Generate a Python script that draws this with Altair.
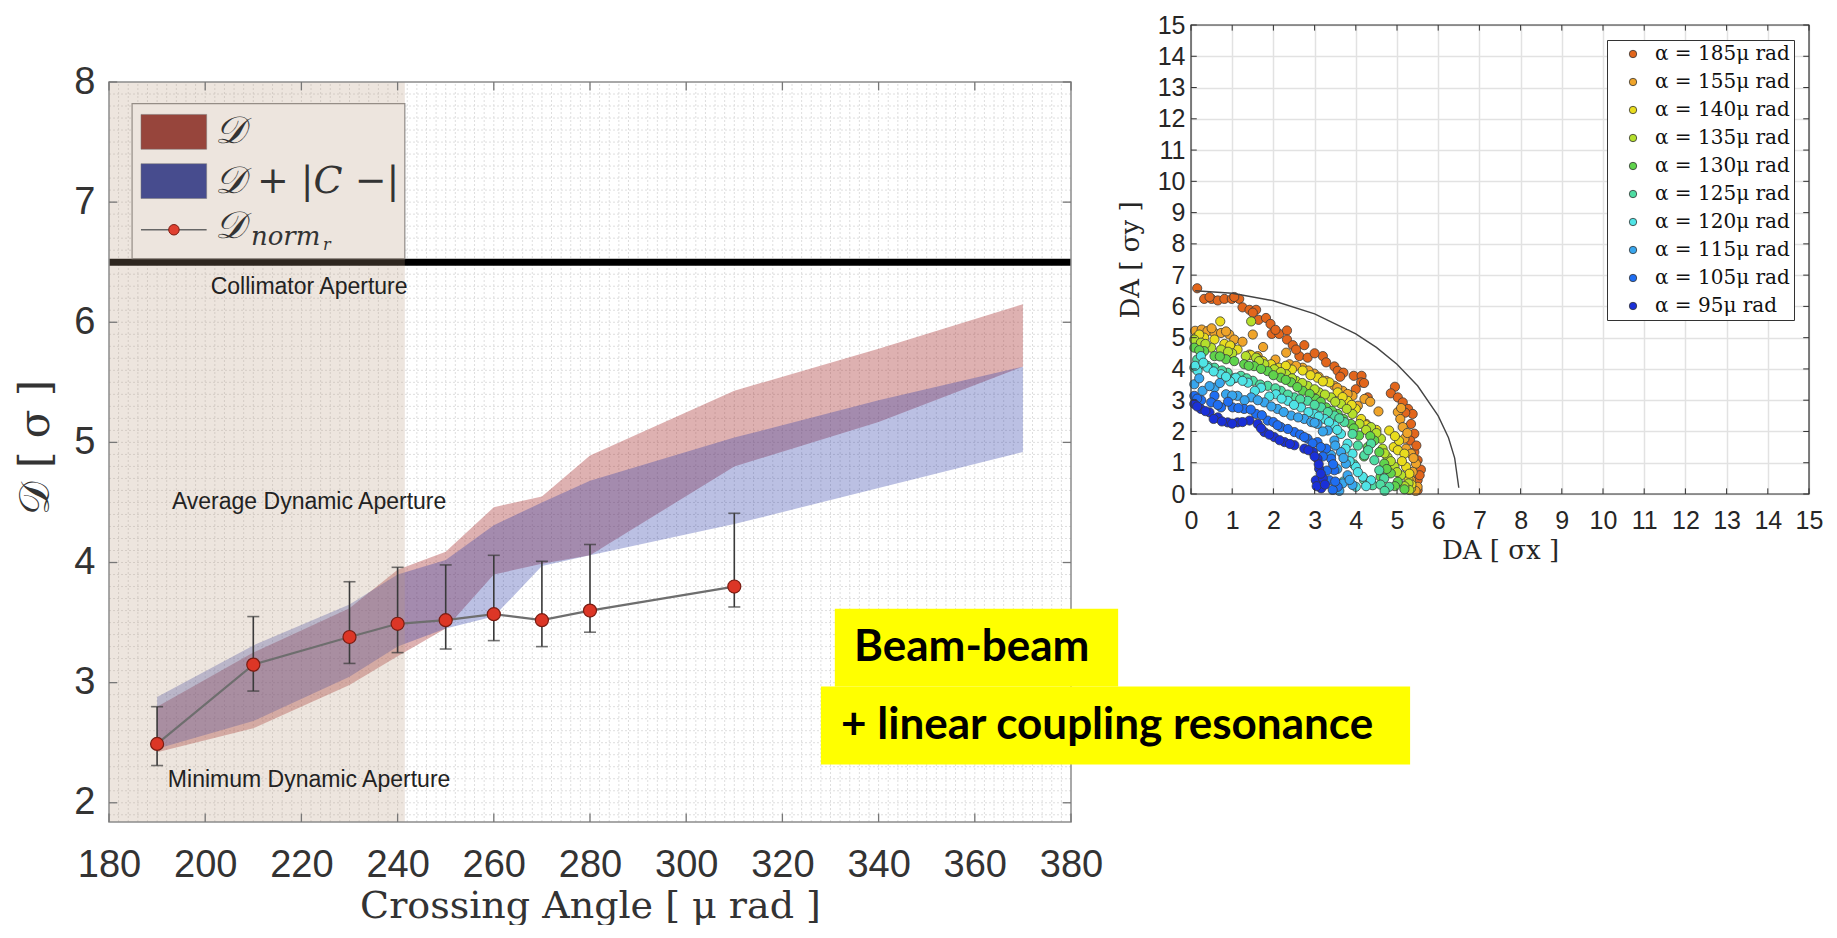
import altair as alt
import pandas as pd

# ================= LEFT PANEL DATA =================
angle = [190, 210, 230, 240, 250, 260, 270, 280, 310]
d_norm = [2.49, 3.15, 3.38, 3.49, 3.52, 3.57, 3.52, 3.60, 3.80]
err_hi = [2.80, 3.55, 3.84, 3.96, 3.98, 4.06, 4.01, 4.15, 4.41]
err_lo = [2.31, 2.93, 3.16, 3.25, 3.28, 3.35, 3.30, 3.42, 3.63]

band_x = [190, 210, 230, 240, 250, 260, 270, 280, 310, 340, 370]
red_hi = [2.80, 3.25, 3.62, 3.94, 4.09, 4.46, 4.55, 4.89, 5.43, 5.78, 6.15]
red_lo = [2.42, 2.62, 2.98, 3.22, 3.45, 3.90, 3.99, 4.06, 4.80, 5.17, 5.63]
blue_hi = [2.88, 3.31, 3.65, 3.90, 4.02, 4.31, 4.50, 4.68, 5.04, 5.35, 5.63]
blue_lo = [2.45, 2.68, 3.05, 3.30, 3.45, 3.55, 3.97, 4.06, 4.32, 4.62, 4.92]

collimator = [6.5]
shade_x = [180, 241.5]
x_ticks = [180, 200, 220, 240, 260, 280, 300, 320, 340, 360, 380]
y_ticks = [2, 3, 4, 5, 6, 7, 8]
XL = [180, 380]
YL = [1.84, 8.0]
Y_VIEW = [1.84, 8.4745]   # top of view left blank so the plot sits lower than the right panel
grid_x = list(range(182, 380, 2))
grid_y = [round(1.9 + 0.1 * i, 2) for i in range(61)]

notes_text = ["Collimator Aperture", "Average Dynamic Aperture", "Minimum Dynamic Aperture"]
notes_x = [221.6, 221.6, 221.6]
notes_y = [6.29, 4.50, 2.19]

# ================= RIGHT PANEL DATA =================
series_names = ["α = 185μ rad", "α = 155μ rad", "α = 140μ rad", "α = 135μ rad", "α = 130μ rad",
                "α = 125μ rad", "α = 120μ rad", "α = 115μ rad", "α = 105μ rad", "α = 95μ rad"]
series_colors = ["#e2661c", "#efa42a", "#e9dc1e", "#b4df2c", "#5fd34c",
                 "#4edca2", "#4fe4e6", "#38a6ee", "#1f6ef2", "#1a30d8"]

s185 = [(0.15,6.58),(0.32,6.24),(0.50,6.24),(0.65,6.19),(0.81,6.24),(0.99,6.24),(1.17,6.24),
        (1.25,5.97),(1.42,5.89),(1.58,5.89),(1.64,5.57),(1.82,5.63),(1.93,5.44),(1.96,5.12),
        (2.14,5.12),(2.33,5.23),(2.33,4.94),(2.47,4.76),(2.75,4.76),(2.63,4.41),(2.83,4.36),
        (3.20,4.41),(3.28,4.21),(3.48,4.08),(3.56,3.94),(3.70,3.88),(3.95,3.78),(4.14,3.78),
        (4.13,3.57),(4.00,3.35),(4.29,3.09),(4.95,3.43),(4.85,3.22),(5.02,3.09),(5.14,2.93),
        (5.27,2.72),(5.38,2.56),(5.34,2.24),(5.42,1.93),(5.32,1.71),(5.42,1.34),(5.50,1.08),
        (5.58,0.78),(5.50,0.44),(5.50,0.12),(0.45,6.30),(1.05,6.30),(1.50,5.80),(2.05,5.25),
        (2.55,4.62),(3.00,4.50),(3.62,3.75),(4.20,3.55),(5.20,2.60),(5.47,1.55),(5.55,0.60)]
s155 = [(0.10,5.22),(0.26,5.26),(0.40,5.21),(0.57,5.15),(0.73,5.15),(0.93,5.10),(1.05,4.94),
        (1.25,4.87),(1.50,5.10),(0.97,4.73),(1.42,4.46),(1.62,4.41),(2.31,4.52),(2.39,4.15),
        (2.71,4.04),(2.99,3.85),(3.28,3.62),(3.48,3.46),(3.68,3.30),(3.92,3.14),(4.21,3.04),
        (4.05,2.82),(4.55,2.64),(4.25,2.24),(5.02,2.62),(5.08,2.40),(5.14,2.14),(5.18,1.77),
        (5.22,1.45),(5.34,1.29),(5.46,0.97),(5.38,0.71),(5.34,0.44),(5.50,0.23),(2.05,4.30),
        (2.55,4.10),(3.10,3.75),(3.80,3.20),(5.25,1.95),(5.45,0.10),(0.50,5.30),(0.85,5.20),
        (1.75,4.70),(2.85,3.95),(3.55,3.40),(4.35,2.95),(5.10,2.75),(5.40,1.15),(5.28,0.30)]
s140 = [(0.71,5.52),(0.12,5.00),(0.32,5.00),(0.57,4.94),(0.81,4.80),(1.13,4.62),(1.46,4.44),
        (1.74,4.25),(1.94,4.15),(2.14,4.04),(2.71,3.95),(3.07,3.72),(3.36,3.57),(3.56,3.25),
        (3.80,2.98),(4.00,2.72),(4.13,2.40),(4.37,2.03),(4.81,2.03),(4.92,1.50),(5.02,1.40),
        (5.18,1.29),(5.22,0.87),(5.28,0.44),(5.34,0.18),(2.45,3.98),(2.90,3.80),(3.68,3.10),
        (4.25,2.20),(5.05,1.70),(5.12,1.05),(5.30,0.65),(0.20,5.10),(0.95,4.75),(1.60,4.35),
        (2.30,4.10),(3.20,3.60),(3.90,2.85),(4.50,2.05),(4.95,1.85),(5.35,0.30)]
s135 = [(1.46,5.52),(0.08,4.94),(0.24,4.84),(0.49,4.68),(0.73,4.62),(1.33,4.41),(1.58,4.36),
        (1.78,4.15),(2.02,3.99),(2.31,3.83),(2.55,3.62),(2.83,3.46),(3.11,3.25),(3.40,3.09),
        (3.64,2.88),(3.92,2.56),(4.09,2.24),(4.37,2.14),(4.61,1.77),(4.65,1.45),(4.77,1.18),
        (4.94,0.87),(5.10,0.60),(5.28,0.34),(5.30,0.13),(1.00,4.50),(2.18,3.90),(2.70,3.55),
        (3.25,3.18),(3.78,2.72),(4.50,1.95),(4.85,1.05),(5.18,0.25),(0.35,4.80),(0.90,4.55),
        (1.65,4.25),(2.45,3.70),(3.00,3.35),(3.50,2.95),(4.25,2.05),(4.70,1.30),(5.00,0.70)]
s130 = [(0.08,4.68),(0.32,4.57),(0.57,4.41),(0.85,4.31),(1.29,4.15),(1.53,4.09),(1.86,3.93),
        (2.18,3.72),(2.43,3.57),(2.71,3.30),(3.03,3.04),(3.28,2.77),(3.56,2.56),(3.88,2.24),
        (4.08,1.87),(4.29,1.50),(4.45,1.71),(4.57,1.34),(4.69,0.97),(4.85,0.66),(5.02,0.39),
        (5.18,0.15),(1.05,4.25),(1.70,4.00),(2.00,3.80),(2.58,3.42),(2.88,3.20),(3.42,2.66),
        (3.70,2.40),(4.20,1.20),(4.60,0.55),(4.40,0.30),(0.20,4.60),(0.70,4.40),(1.40,4.10),
        (2.30,3.65),(3.15,2.95),(3.95,2.10),(4.35,1.85),(4.75,0.80),(4.95,0.25)]
s125 = [(0.08,4.04),(0.28,4.15),(0.57,4.04),(0.89,3.88),(1.21,3.78),(1.50,3.62),(1.86,3.46),
        (2.18,3.30),(2.51,3.09),(2.83,2.98),(3.16,2.77),(3.48,2.51),(3.72,2.30),(3.92,1.92),
        (4.21,1.24),(4.37,1.61),(4.45,1.08),(4.57,0.76),(4.69,0.50),(4.81,0.23),(4.41,0.28),
        (0.15,4.30),(1.05,3.70),(1.68,3.50),(2.35,3.18),(3.00,2.85),(3.32,2.62),(4.05,1.55),
        (4.20,0.45),(3.95,0.95),(0.40,4.10),(0.75,3.95),(1.35,3.70),(2.05,3.38),(2.65,3.03),
        (3.60,2.42),(4.30,1.40),(4.60,0.30),(4.70,0.10)]
s120 = [(0.24,4.41),(0.16,3.94),(0.40,4.04),(0.73,3.83),(1.09,3.72),(1.38,3.56),(1.70,3.40),
        (2.06,3.19),(2.35,2.98),(2.67,2.77),(2.99,2.56),(3.24,2.40),(3.48,2.19),(3.64,1.92),
        (3.80,1.61),(3.92,1.29),(4.00,0.87),(4.17,0.55),(4.00,0.23),(4.37,0.44),(0.55,3.92),
        (0.95,3.60),(1.55,3.30),(1.90,3.12),(2.50,2.85),(2.85,2.62),(3.35,2.30),(3.75,1.45),
        (3.85,1.05),(3.70,0.40),(0.10,4.10),(0.30,4.20),(0.85,3.75),(1.25,3.62),(2.20,3.05),
        (3.10,2.48),(3.55,2.05),(4.05,0.70),(4.25,0.25)]
s115 = [(0.08,3.51),(0.28,3.30),(0.57,3.40),(0.85,3.19),(1.13,3.14),(1.46,3.09),(1.78,2.93),
        (2.10,2.72),(2.43,2.51),(2.75,2.40),(3.07,2.24),(3.32,2.03),(3.48,1.71),(3.64,1.34),
        (3.76,0.97),(3.80,0.60),(3.68,0.34),(3.92,0.29),(0.20,3.70),(0.70,3.55),(1.30,3.00),
        (1.95,2.80),(2.60,2.45),(2.92,2.30),(3.20,2.00),(3.40,1.25),(3.55,0.80),(3.60,0.10),
        (0.45,3.45),(1.00,3.15),(1.62,3.00),(2.25,2.62),(3.00,2.28),(3.50,1.55),(3.70,1.15),
        (3.85,0.45)]
s105 = [(0.08,3.14),(0.57,3.14),(0.49,2.93),(0.73,2.77),(1.01,2.77),(1.29,2.72),(1.58,2.56),
        (1.86,2.35),(2.18,2.14),(2.51,1.98),(2.83,1.77),(3.07,1.66),(3.28,1.45),(3.40,1.13),
        (3.48,0.76),(3.36,0.44),(3.56,0.23),(3.44,0.13),(0.25,3.00),(0.90,2.95),(1.45,2.70),
        (1.72,2.52),(2.00,2.30),(2.35,2.08),(2.65,1.90),(2.95,1.62),(3.20,1.20),(3.30,0.75),
        (0.15,3.05),(0.65,2.85),(1.15,2.75),(2.10,2.20),(2.75,1.82),(3.15,1.50),(3.45,0.95),
        (3.50,0.40)]
s95 = [(0.08,2.88),(0.24,2.72),(0.45,2.61),(0.65,2.45),(0.89,2.29),(1.13,2.29),(1.42,2.35),
       (1.62,2.24),(1.78,1.98),(2.02,1.82),(2.27,1.66),(2.51,1.56),(2.75,1.45),(2.96,1.34),
       (3.07,1.13),(3.11,0.81),(3.03,0.44),(3.16,0.18),(3.20,0.50),(0.15,2.80),(0.55,2.40),
       (1.00,2.25),(1.90,1.90),(2.15,1.72),(3.10,0.95),(3.05,0.25),(3.25,0.30),(0.35,2.65),
       (0.75,2.32),(1.25,2.30),(1.70,2.10),(2.40,1.60),(2.85,1.40),(3.00,1.20),(3.15,0.65)]
all_series = [s185, s155, s140, s135, s130, s125, s120, s115, s105, s95]

arc_x = [0.10, 1.0, 2.0, 3.0, 4.0, 4.5, 5.0, 5.5, 6.0, 6.25, 6.4, 6.5]
arc_y = [6.50, 6.42, 6.18, 5.76, 5.12, 4.69, 4.15, 3.46, 2.50, 1.80, 1.15, 0.20]
r_ticks = list(range(0, 16))
R_LIM = [0, 15]

# ================= LEFT PANEL =================
xs_l = alt.Scale(domain=XL, nice=False, zero=False)
ys_l = alt.Scale(domain=Y_VIEW, nice=False, zero=False)

AX_L = alt.Axis(values=x_ticks, title="Crossing Angle [ μ rad ]", labelFont="Liberation Sans",
                labelFontSize=38, labelColor="#333333", labelPadding=24, ticks=False, domain=False,
                grid=False, labelFlush=False, labelOverlap=False, titleFont="DejaVu Serif",
                titleFontSize=38, titleFontWeight="normal", titleColor="#333333", titlePadding=3)
AY_L = alt.Axis(values=y_ticks, title="𝒟 [ σ ]", labelFont="Liberation Sans", labelFontSize=38,
                labelColor="#333333", labelPadding=14, ticks=False, domain=False, grid=False,
                labelFlush=False, labelOverlap=False, titleFont="DejaVu Serif", titleFontSize=42,
                titleFontWeight="normal", titleColor="#333333", titlePadding=16, titleY=422)


def lx(f):
    return alt.X(f, type="quantitative", scale=xs_l, axis=AX_L)


def ly(f):
    return alt.Y(f, type="quantitative", scale=ys_l, axis=AY_L)


def box_df(x0, x1, y0, y1):
    return pd.DataFrame({"x0": [x0], "x1": [x1], "y0": [y0], "y1": [y1]})


gx = alt.Chart(pd.DataFrame({"x": grid_x, "y0": YL[0], "y1": YL[1]})).mark_rule(
    color="#dedede", strokeWidth=1, strokeDash=[2, 2]).encode(x=lx("x"), y=ly("y0"), y2="y1")
gy = alt.Chart(pd.DataFrame({"y": grid_y, "x0": XL[0], "x1": XL[1]})).mark_rule(
    color="#dedede", strokeWidth=1, strokeDash=[2, 2]).encode(y=ly("y"), x=lx("x0"), x2="x1")

bands = pd.DataFrame({"x": band_x, "rh": red_hi, "rl": red_lo, "bh": blue_hi, "bl": blue_lo})
red_band = alt.Chart(bands).mark_area(color="#a83232", opacity=0.38).encode(
    x=lx("x"), y=ly("rl"), y2="rh")
blue_band = alt.Chart(bands).mark_area(color="#2a3aa8", opacity=0.32).encode(
    x=lx("x"), y=ly("bl"), y2="bh")

coll = alt.Chart(pd.DataFrame({"y": collimator, "x0": XL[0], "x1": XL[1]})).mark_rule(
    color="black", strokeWidth=7).encode(y=ly("y"), x=lx("x0"), x2="x1")

leg_box = alt.Chart(box_df(184.8, 241.5, 6.53, 7.82)).mark_rect(
    fill="white", stroke="#8a8a8a", strokeWidth=1.2).encode(
    x=lx("x0"), x2="x1", y=ly("y0"), y2="y1")

shade = alt.Chart(box_df(shade_x[0], shade_x[1], YL[0], YL[1])).mark_rect(
    color="#b7977b", opacity=0.25).encode(x=lx("x0"), x2="x1", y=ly("y0"), y2="y1")

frame_l = alt.Chart(box_df(XL[0], XL[1], YL[0], YL[1])).mark_rect(
    fill="transparent", stroke="#8c8c8c", strokeWidth=1.5).encode(
    x=lx("x0"), x2="x1", y=ly("y0"), y2="y1")

# small inward tick marks on all four sides
tk_x = pd.DataFrame({"x": x_ticks})
tk_y = pd.DataFrame({"y": y_ticks})
tick_top = alt.Chart(tk_x.assign(y0=YL[1], y1=YL[1] - 0.07)).mark_rule(color="#777777", strokeWidth=1.3).encode(
    x=lx("x"), y=ly("y0"), y2="y1")
tick_bot = alt.Chart(tk_x.assign(y0=YL[0], y1=YL[0] + 0.07)).mark_rule(color="#777777", strokeWidth=1.3).encode(
    x=lx("x"), y=ly("y0"), y2="y1")
tick_lft = alt.Chart(tk_y.assign(x0=XL[0], x1=XL[0] + 1.7)).mark_rule(color="#777777", strokeWidth=1.3).encode(
    y=ly("y"), x=lx("x0"), x2="x1")
tick_rgt = alt.Chart(tk_y.assign(x0=XL[1], x1=XL[1] - 1.7)).mark_rule(color="#777777", strokeWidth=1.3).encode(
    y=ly("y"), x=lx("x0"), x2="x1")

notes = alt.Chart(pd.DataFrame({"x": notes_x, "y": notes_y, "t": notes_text})).mark_text(
    font="Liberation Sans", fontSize=23, color="#222222", align="center", baseline="middle").encode(
    x=lx("x"), y=ly("y"), text="t:N")

pts = pd.DataFrame({"a": angle, "d": d_norm, "hi": err_hi, "lo": err_lo})
ebar = alt.Chart(pts).mark_rule(color="#3a3a3a", strokeWidth=1.6).encode(x=lx("a"), y=ly("lo"), y2="hi")
cap_hi = alt.Chart(pts).mark_tick(orient="horizontal", size=12, thickness=1.6, color="#3a3a3a").encode(
    x=lx("a"), y=ly("hi"))
cap_lo = alt.Chart(pts).mark_tick(orient="horizontal", size=12, thickness=1.6, color="#3a3a3a").encode(
    x=lx("a"), y=ly("lo"))
dline = alt.Chart(pts).mark_line(color="#6e6e6e", strokeWidth=2.2).encode(x=lx("a"), y=ly("d"))
dpts = alt.Chart(pts).mark_circle(size=170, color="#dc3626", opacity=1, stroke="#7a1c12", strokeWidth=1.2).encode(
    x=lx("a"), y=ly("d"))

# legend contents (manual, in data units)
sw_red = alt.Chart(box_df(186.65, 200.3, 7.44, 7.73)).mark_rect(
    color="#97453c", stroke="#777777", strokeWidth=0.5).encode(x=lx("x0"), x2="x1", y=ly("y0"), y2="y1")
sw_blue = alt.Chart(box_df(186.65, 200.3, 7.03, 7.32)).mark_rect(
    color="#474c8e", stroke="#777777", strokeWidth=0.5).encode(x=lx("x0"), x2="x1", y=ly("y0"), y2="y1")
leg_line = alt.Chart(pd.DataFrame({"x": [186.65, 200.3], "y": [6.77, 6.77]})).mark_line(
    color="#666666", strokeWidth=1.5).encode(x=lx("x"), y=ly("y"))
leg_dot = alt.Chart(pd.DataFrame({"x": [193.5], "y": [6.77]})).mark_circle(
    size=110, color="#e04030", opacity=1, stroke="#7a1c12", strokeWidth=1).encode(x=lx("x"), y=ly("y"))
leg_txt = alt.Chart(pd.DataFrame({"x": [202.0, 202.0, 202.0], "y": [7.58, 7.17, 6.79],
                                  "t": ["𝒟", "𝒟 + |C −|", "𝒟"]})).mark_text(
    font="DejaVu Serif", fontStyle="italic", fontSize=38, color="#333333", align="left", baseline="middle").encode(
    x=lx("x"), y=ly("y"), text="t:N")
leg_sub = alt.Chart(pd.DataFrame({"x": [209.5], "y": [6.64], "t": ["norm"]})).mark_text(
    font="DejaVu Serif", fontStyle="italic", fontSize=26, color="#333333", align="left",
    baseline="alphabetic").encode(x=lx("x"), y=ly("y"), text="t:N")
leg_sub2 = alt.Chart(pd.DataFrame({"x": [224.5], "y": [6.60], "t": ["r"]})).mark_text(
    font="DejaVu Serif", fontStyle="italic", fontSize=16, color="#333333", align="left",
    baseline="alphabetic").encode(x=lx("x"), y=ly("y"), text="t:N")

# yellow annotation boxes
ybox = alt.Chart(pd.DataFrame({"x0": [330.9, 328.0], "x1": [389.8, 450.5],
                               "y0": [2.967, 2.318], "y1": [3.616, 2.967]})).mark_rect(
    color="#ffff00", opacity=1).encode(x=lx("x0"), x2="x1", y=ly("y0"), y2="y1")
ytxt = alt.Chart(pd.DataFrame({"x": [334.9, 332.2], "y": [3.29, 2.64],
                               "t": ["Beam-beam", "+ linear coupling resonance"]})).mark_text(
    font="Lato", fontWeight="bold", fontSize=44, color="black", align="left", baseline="middle").encode(
    x=lx("x"), y=ly("y"), text="t:N")

left = alt.layer(gx, gy, red_band, blue_band, coll, leg_box, shade, frame_l,
                 tick_top, tick_bot, tick_lft, tick_rgt, notes,
                 ebar, cap_hi, cap_lo, dline, dpts, sw_red, sw_blue, leg_line, leg_dot, leg_txt,
                 leg_sub, leg_sub2, ybox, ytxt).properties(
    width=962, height=797, view=alt.ViewBackground(stroke="transparent", strokeWidth=0))

# ================= RIGHT PANEL =================
rows = []
for name, pairs in zip(series_names, all_series):
    for (px, py) in pairs:
        rows.append({"x": px, "y": py, "s": name})
scat_df = pd.DataFrame(rows)
xs_r = alt.Scale(domain=R_LIM, nice=False, zero=False)
ys_r = alt.Scale(domain=R_LIM, nice=False, zero=False)

AX_R = alt.Axis(values=r_ticks, title="DA [ σx ]", labelFont="Liberation Sans", labelFontSize=25,
                labelColor="#262626", labelPadding=14, ticks=False, domain=False, grid=True,
                gridColor="#e2e2e2", gridWidth=1.5, labelFlush=False, labelOverlap=False,
                titleFont="DejaVu Serif", titleFontSize=26, titleFontWeight="normal",
                titleColor="#262626", titlePadding=4)
AY_R = alt.Axis(values=r_ticks, title="DA [ σy ]", labelFont="Liberation Sans", labelFontSize=25,
                labelColor="#262626", labelPadding=6, ticks=False, domain=False, grid=True,
                gridColor="#e2e2e2", gridWidth=1.5, labelFlush=False, labelOverlap=False,
                titleFont="DejaVu Serif", titleFontSize=26, titleFontWeight="normal",
                titleColor="#262626", titlePadding=14)


def rx(f):
    return alt.X(f, type="quantitative", scale=xs_r, axis=AX_R)


def ry(f):
    return alt.Y(f, type="quantitative", scale=ys_r, axis=AY_R)


scatter = alt.Chart(scat_df).mark_circle(size=85, opacity=1, stroke="#3a3a3a", strokeWidth=0.8).encode(
    x=rx("x"), y=ry("y"),
    color=alt.Color("s:N", scale=alt.Scale(domain=series_names, range=series_colors),
                    legend=alt.Legend(orient="top-right", title=None, offset=15, labelFont="DejaVu Serif",
                                      labelFontSize=20, labelColor="#111111", symbolType="circle",
                                      symbolSize=55, symbolStrokeColor="#333333", symbolStrokeWidth=0.8,
                                      strokeColor="#333333", fillColor="white", padding=4, rowPadding=8,
                                      symbolOffset=12, labelOffset=12)))

arc = alt.Chart(pd.DataFrame({"x": arc_x, "y": arc_y, "o": list(range(len(arc_x)))})).mark_line(
    color="#444444", strokeWidth=1.4).encode(x=rx("x"), y=ry("y"), order="o:Q")

frame_r = alt.Chart(box_df(R_LIM[0], R_LIM[1], R_LIM[0], R_LIM[1])).mark_rect(
    fill="transparent", stroke="#333333", strokeWidth=1.2).encode(
    x=rx("x0"), x2="x1", y=ry("y0"), y2="y1")

rt = pd.DataFrame({"v": r_ticks})
rtick_top = alt.Chart(rt.assign(a=15.0, b=14.82)).mark_rule(color="#333333", strokeWidth=1).encode(
    x=rx("v"), y=ry("a"), y2="b")
rtick_bot = alt.Chart(rt.assign(a=0.0, b=0.18)).mark_rule(color="#333333", strokeWidth=1).encode(
    x=rx("v"), y=ry("a"), y2="b")
rtick_lft = alt.Chart(rt.assign(a=0.0, b=0.14)).mark_rule(color="#333333", strokeWidth=1).encode(
    y=ry("v"), x=rx("a"), x2="b")
rtick_rgt = alt.Chart(rt.assign(a=15.0, b=14.86)).mark_rule(color="#333333", strokeWidth=1).encode(
    y=ry("v"), x=rx("a"), x2="b")

right = alt.layer(scatter, arc, frame_r, rtick_top, rtick_bot, rtick_lft, rtick_rgt).properties(
    width=618, height=469, view=alt.ViewBackground(stroke="transparent", strokeWidth=0))

chart = alt.hconcat(left, right, spacing=120, bounds="flush").properties(
    padding={"left": 6, "top": 5, "right": 0, "bottom": 0}
).resolve_scale(color="independent").configure_view(stroke="transparent", strokeWidth=0).configure(
    background="white")

chart.save("out.html", embed_options={"renderer": "svg", "actions": False})
